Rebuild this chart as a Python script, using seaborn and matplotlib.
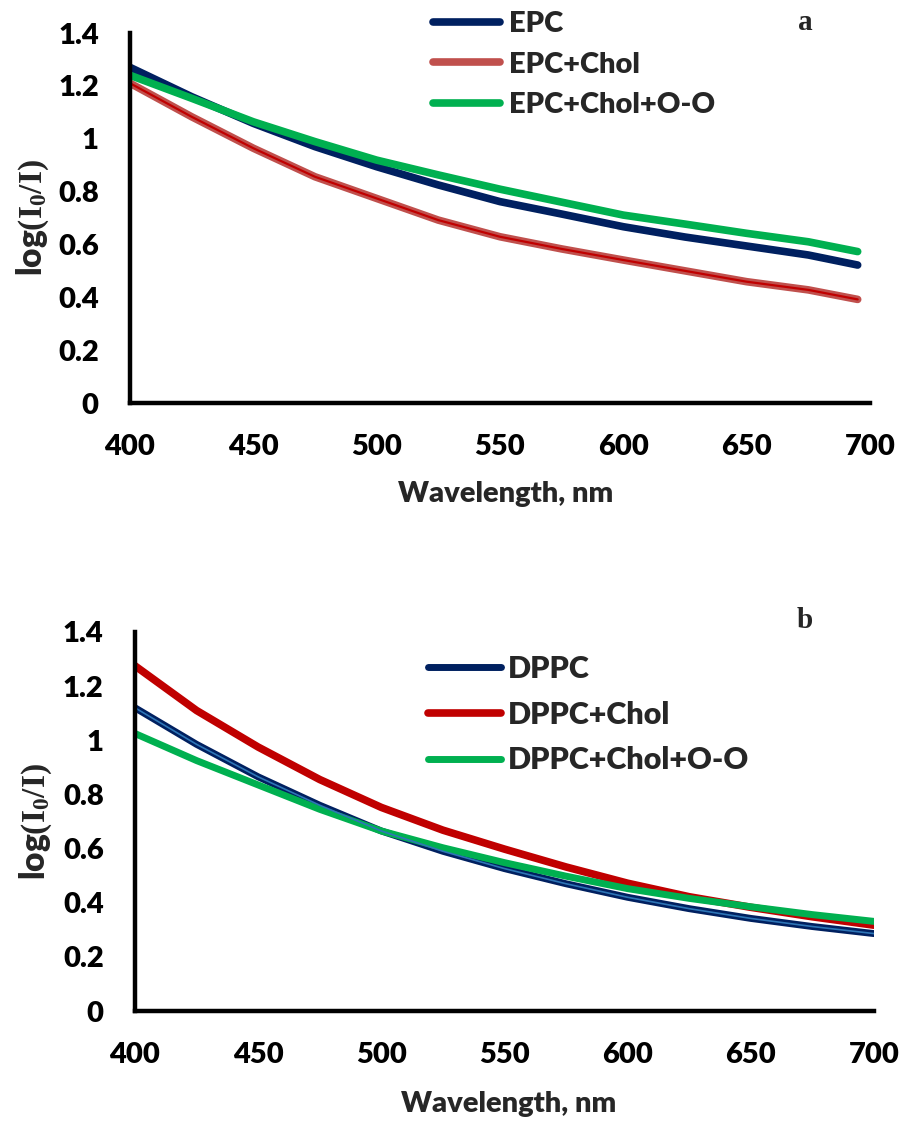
import numpy as np
import pandas as pd
import matplotlib
matplotlib.use("Agg")
import matplotlib.pyplot as plt
import seaborn as sns

# ---------------- data ----------------
wl_a = [400, 425, 450, 475, 500, 525, 550, 575, 600, 625, 650, 675, 695]
epc = [1.27, 1.159, 1.058, 0.970, 0.894, 0.825, 0.762, 0.715, 0.667, 0.628, 0.594, 0.560, 0.522]
epc_chol = [1.21, 1.083, 0.964, 0.856, 0.774, 0.692, 0.629, 0.583, 0.541, 0.500, 0.459, 0.428, 0.392]
epc_chol_oo = [1.24, 1.153, 1.064, 0.989, 0.919, 0.863, 0.809, 0.760, 0.711, 0.677, 0.642, 0.610, 0.573]

wl_b = [400, 425, 450, 475, 500, 525, 550, 575, 600, 625, 650, 675, 700]
dppc = [1.12, 0.985, 0.865, 0.76, 0.665, 0.59, 0.526, 0.47, 0.42, 0.378, 0.342, 0.312, 0.286]
dppc_chol = [1.275, 1.11, 0.975, 0.855, 0.752, 0.668, 0.598, 0.532, 0.472, 0.422, 0.383, 0.348, 0.317]
dppc_chol_oo = [1.025, 0.925, 0.835, 0.745, 0.665, 0.603, 0.548, 0.498, 0.452, 0.416, 0.385, 0.356, 0.331]

labels_a = ["EPC", "EPC+Chol", "EPC+Chol+O-O"]
labels_b = ["DPPC", "DPPC+Chol", "DPPC+Chol+O-O"]
yticks = [0, 0.2, 0.4, 0.6, 0.8, 1.0, 1.2, 1.4]
ytick_labels = ["0", "0.2", "0.4", "0.6", "0.8", "1", "1.2", "1.4"]
xticks = [400, 450, 500, 550, 600, 650, 700]
xlabel = "Wavelength, nm"
ylabel = r"log$\mathbf{(I_0/I)}$"

# ---------------- style ----------------
sns.set_style("white")
plt.rcParams["font.family"] = ["Lato", "DejaVu Sans"]
plt.rcParams["font.weight"] = "heavy"
plt.rcParams["mathtext.fontset"] = "custom"
plt.rcParams["mathtext.rm"] = "Liberation Serif:bold"
plt.rcParams["mathtext.bf"] = "Liberation Serif:bold"
plt.rcParams["mathtext.it"] = "Liberation Serif:bold"

W, H = 902, 1121
fig = plt.figure(figsize=(W / 100, H / 100), dpi=100)

def axes_px(l, r, t, b):
    return fig.add_axes([l / W, 1 - b / H, (r - l) / W, (b - t) / H])

ax_a = axes_px(130, 870, 33, 403)
ax_b = axes_px(135, 874, 632, 1011)

TICK_FS = 21
WEIGHT = "heavy"

def style_axes(ax):
    for s in ["top", "right"]:
        ax.spines[s].set_visible(False)
    for s in ["left", "bottom"]:
        ax.spines[s].set_linewidth(3.2)
        ax.spines[s].set_color("black")
    ax.set_xlim(400, 700)
    ax.set_ylim(0, 1.4)
    ax.set_xticks(xticks)
    ax.set_xticklabels([str(x) for x in xticks])
    ax.set_yticks(yticks)
    ax.set_yticklabels(ytick_labels)
    ax.tick_params(axis="both", direction="out", length=7.5, width=3.0,
                   colors="black", labelsize=TICK_FS)
    ax.tick_params(axis="x", pad=15)
    ax.tick_params(axis="y", pad=15)
    for lab in ax.get_xticklabels() + ax.get_yticklabels():
        lab.set_fontweight(WEIGHT)
    ax.grid(False)

# ---------------- panel a ----------------
df_a = pd.DataFrame({"wl": wl_a, labels_a[0]: epc, labels_a[1]: epc_chol, labels_a[2]: epc_chol_oo})
cols_a = ["#002060", "#C0504D", "#00B050"]
for lab, c in zip(labels_a, cols_a):
    sns.lineplot(data=df_a, x="wl", y=lab, ax=ax_a, color=c, lw=5.5,
                 label=lab, solid_capstyle="round")
sns.lineplot(data=df_a, x="wl", y=labels_a[1], ax=ax_a, color="#C00000", lw=1.6,
             label="_nolegend_", legend=False)
style_axes(ax_a)
ax_a.set_xlabel(xlabel, fontsize=21, fontweight=WEIGHT)
ax_a.set_ylabel(ylabel, fontsize=24, fontweight=WEIGHT)
ax_a.xaxis.set_label_coords(0.507, -0.21)
ax_a.yaxis.set_label_coords(-0.107, 0.5)

h, l = ax_a.get_legend_handles_labels()
keep = [(hh, ll) for hh, ll in zip(h, l) if ll in labels_a]
ax_a.legend([k[0] for k in keep], [k[1] for k in keep],
            loc="upper left", bbox_to_anchor=(433 / W, 1 - 11 / H),
            bbox_transform=fig.transFigure, frameon=False,
            handlelength=2.3, handletextpad=0.3, labelspacing=0.5,
            borderpad=0, borderaxespad=0,
            prop={"weight": WEIGHT, "size": 21})

fig.text(805 / W, 1 - 22 / H, "a", fontsize=21, fontweight="bold",
         family="Liberation Serif", ha="center", va="center")

# ---------------- panel b ----------------
df_b = pd.DataFrame({"wl": wl_b, labels_b[0]: dppc, labels_b[1]: dppc_chol, labels_b[2]: dppc_chol_oo})
cols_b = ["#002060", "#C00000", "#00B050"]
lws_b = [5.0, 5.5, 5.0]
for lab, c, lw in zip(labels_b, cols_b, lws_b):
    sns.lineplot(data=df_b, x="wl", y=lab, ax=ax_b, color=c, lw=lw,
                 label=lab, solid_capstyle="round")
sns.lineplot(data=df_b, x="wl", y=labels_b[0], ax=ax_b, color="#2E75B6", lw=1.2,
             label="_nolegend_", legend=False)
style_axes(ax_b)
ax_b.set_xlabel(xlabel, fontsize=21, fontweight=WEIGHT)
ax_b.set_ylabel(ylabel, fontsize=24, fontweight=WEIGHT)
ax_b.xaxis.set_label_coords(0.505, -0.21)
ax_b.yaxis.set_label_coords(-0.11, 0.5)

h, l = ax_b.get_legend_handles_labels()
keep = [(hh, ll) for hh, ll in zip(h, l) if ll in labels_b]
ax_b.legend([k[0] for k in keep], [k[1] for k in keep],
            loc="upper left", bbox_to_anchor=(428 / W, 1 - 655 / H),
            bbox_transform=fig.transFigure, frameon=False,
            handlelength=2.4, handletextpad=0.2, labelspacing=0.58,
            borderpad=0, borderaxespad=0,
            prop={"weight": WEIGHT, "size": 22})

fig.text(805 / W, 1 - 620 / H, "b", fontsize=21, fontweight="bold",
         family="Liberation Serif", ha="center", va="center")

fig.savefig("out.png", dpi=100, facecolor="white")
